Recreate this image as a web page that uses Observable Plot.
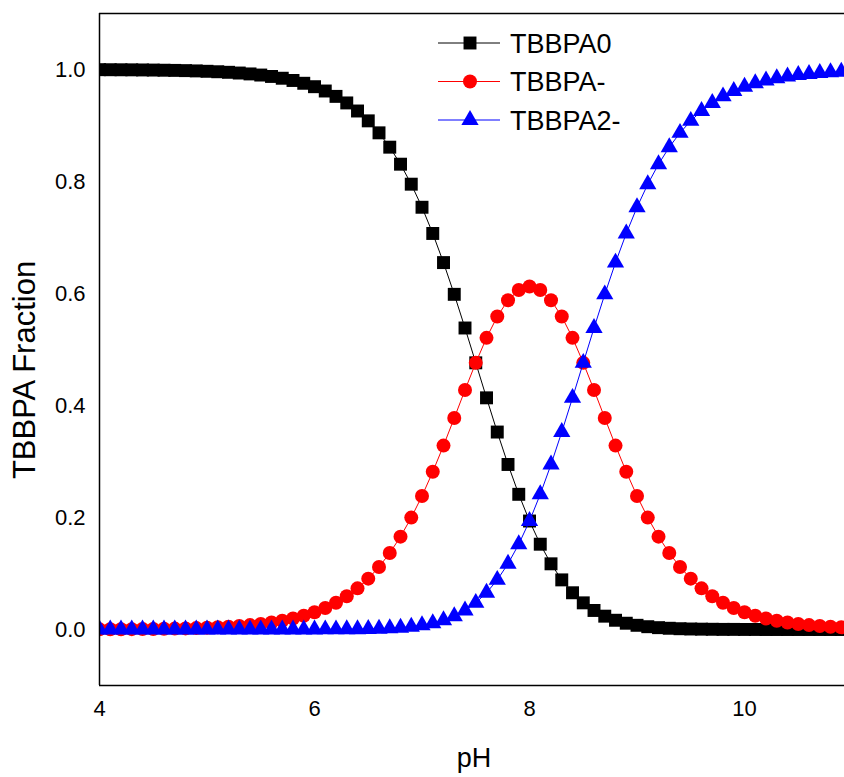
<!DOCTYPE html>
<html><head><meta charset="utf-8">
<script src="https://cdn.jsdelivr.net/npm/d3@7"></script>
<script src="https://cdn.jsdelivr.net/npm/@observablehq/plot@0.6"></script>
<style>
body{margin:0;background:#fff;}
#wrap{position:relative;width:844px;height:777px;}
</style></head><body><div id="wrap"></div>
<script>
const pH = [4.0,4.1,4.2,4.3,4.4,4.5,4.6,4.7,4.8,4.9,5.0,5.1,5.2,5.3,5.4,5.5,5.6,5.7,5.8,5.9,
  6.0,6.1,6.2,6.3,6.4,6.5,6.6,6.7,6.8,6.9,7.0,7.1,7.2,7.3,7.4,7.5,7.6,7.7,7.8,7.9,
  8.0,8.1,8.2,8.3,8.4,8.5,8.6,8.7,8.8,8.9,9.0,9.1,9.2,9.3,9.4,9.5,9.6,9.7,9.8,9.9,
  10.0,10.1,10.2,10.3,10.4,10.5,10.6,10.7,10.8,10.9,11.0];
const fTBBPA0 = [0.9997,0.9996,0.9995,0.9994,0.9992,0.9990,0.9987,0.9984,0.9980,0.9975,
  0.9968,0.9960,0.9950,0.9937,0.9921,0.9901,0.9876,0.9844,0.9804,0.9754,
  0.9693,0.9616,0.9520,0.9403,0.9259,0.9083,0.8869,0.8613,0.8309,0.7952,
  0.7540,0.7072,0.6552,0.5985,0.5384,0.4762,0.4137,0.3526,0.2947,0.2414,
  0.1937,0.1523,0.1173,0.0886,0.0656,0.0476,0.0340,0.0238,0.0165,0.0112,
  0.0075,0.0050,0.0033,0.0022,0.0014,0.0009,0.0006,0.0004,0.0002,0.0002,
  0.0001,0.0001,0.0000,0.0000,0.0000,0.0000,0.0000,0.0000,0.0000,0.0000,0.0000];
const fTBBPAm = [0.0003,0.0004,0.0005,0.0006,0.0008,0.0010,0.0013,0.0016,0.0020,0.0025,
  0.0032,0.0040,0.0050,0.0063,0.0079,0.0099,0.0124,0.0156,0.0196,0.0245,
  0.0307,0.0383,0.0477,0.0593,0.0735,0.0908,0.1117,0.1365,0.1658,0.1998,
  0.2384,0.2816,0.3284,0.3776,0.4277,0.4762,0.5208,0.5588,0.5880,0.6063,
  0.6126,0.6063,0.5880,0.5588,0.5208,0.4762,0.4277,0.3776,0.3284,0.2816,
  0.2384,0.1998,0.1658,0.1365,0.1117,0.0908,0.0735,0.0593,0.0477,0.0383,
  0.0307,0.0245,0.0196,0.0156,0.0124,0.0099,0.0079,0.0063,0.0050,0.0040,0.0032];
const fTBBPA2m = [0.0000,0.0000,0.0000,0.0000,0.0000,0.0000,0.0000,0.0000,0.0000,0.0000,
  0.0000,0.0000,0.0000,0.0000,0.0000,0.0000,0.0000,0.0000,0.0000,0.0001,
  0.0001,0.0002,0.0002,0.0004,0.0006,0.0009,0.0014,0.0022,0.0033,0.0050,
  0.0075,0.0112,0.0165,0.0238,0.0340,0.0476,0.0656,0.0886,0.1173,0.1523,
  0.1937,0.2414,0.2947,0.3526,0.4137,0.4762,0.5384,0.5985,0.6552,0.7072,
  0.7540,0.7952,0.8309,0.8613,0.8869,0.9083,0.9259,0.9403,0.9520,0.9616,
  0.9693,0.9754,0.9804,0.9844,0.9876,0.9901,0.9921,0.9937,0.9950,0.9960,0.9968];
const seriesNames = ["TBBPA0","TBBPA-","TBBPA2-"];
const seriesColors = ["#000000","#ff0000","#0000ff"];
const seriesSymbols = ["square","circle","triangle"];
const xTicks = [4,6,8,10];
const yTicks = [0,0.2,0.4,0.6,0.8,1.0];
const xLabel = "pH";
const yLabel = "TBBPA Fraction";

const FONT = '"Liberation Sans", Arial, sans-serif';
const symR = {square: 7.3, circle: 7, triangle: 6.4};
const seriesData = [fTBBPA0, fTBBPAm, fTBBPA2m].map((arr, i) =>
  arr.map((v, j) => ({pH: pH[j], f: v, s: seriesNames[i]})));

const marks = [];
seriesData.forEach((rows, i) => {
  marks.push(Plot.line(rows, {x: "pH", y: "f", stroke: seriesColors[i], strokeWidth: 1, clip: true}));
  marks.push(Plot.dot(rows, {x: "pH", y: "f", symbol: () => seriesSymbols[i], fill: seriesColors[i], stroke: "none", r: symR[seriesSymbols[i]], clip: true}));
});
marks.push(Plot.ruleX([4], {stroke: "black", strokeWidth: 1.5}));
marks.push(Plot.ruleY([-0.1, 1.1], {stroke: "black", strokeWidth: 1.5}));
marks.push(Plot.axisX({ticks: xTicks, tickSize: 0, tickPadding: 15, tickFormat: d => String(d), label: null, fontSize: 22, fill: "#000"}));
marks.push(Plot.axisY({ticks: yTicks, tickSize: 0, tickPadding: 14, tickFormat: d3.format(".1f"), label: null, fontSize: 22, fill: "#000"}));

const plot = Plot.plot({
  width: 844, height: 777,
  marginLeft: 99, marginRight: 0, marginTop: 13, marginBottom: 92,
  style: {fontFamily: FONT, fontSize: "22px", color: "#000", background: "#fff", overflow: "visible"},
  x: {domain: [4, 10.93]},
  y: {domain: [-0.1, 1.1]},
  marks
});
document.getElementById("wrap").appendChild(plot);

const svg = d3.select(plot);
svg.selectAll('g[aria-label$="tick label"]').attr("font-size", 22).style("font-size", "22px")
  .selectAll("text").style("font-size", "22px");
svg.append("text").attr("x", 474).attr("y", 767).attr("text-anchor", "middle")
  .attr("font-family", FONT).attr("font-size", 27).attr("fill", "#000").text(xLabel);
svg.append("text").attr("transform", "translate(35,370) rotate(-90)").attr("text-anchor", "middle")
  .attr("font-family", FONT).attr("font-size", 31).attr("fill", "#000").text(yLabel);

// legend
const lg = svg.append("g");
seriesNames.forEach((name, i) => {
  const cy = 43 + i * 38.5;
  lg.append("line").attr("x1", 438).attr("x2", 500).attr("y1", cy).attr("y2", cy)
    .attr("stroke", seriesColors[i]).attr("stroke-width", 1);
  const sym = {square: d3.symbolSquare, circle: d3.symbolCircle, triangle: d3.symbolTriangle}[seriesSymbols[i]];
  const r = symR[seriesSymbols[i]];
  lg.append("path").attr("d", d3.symbol(sym, Math.PI * r * r)())
    .attr("transform", `translate(470,${cy})`).attr("fill", seriesColors[i]);
  lg.append("text").attr("x", 510).attr("y", cy).attr("dy", "0.36em").attr("text-anchor", "start")
    .attr("font-family", FONT).attr("font-size", 27).attr("fill", "#000").text(name);
});
</script></body></html>
